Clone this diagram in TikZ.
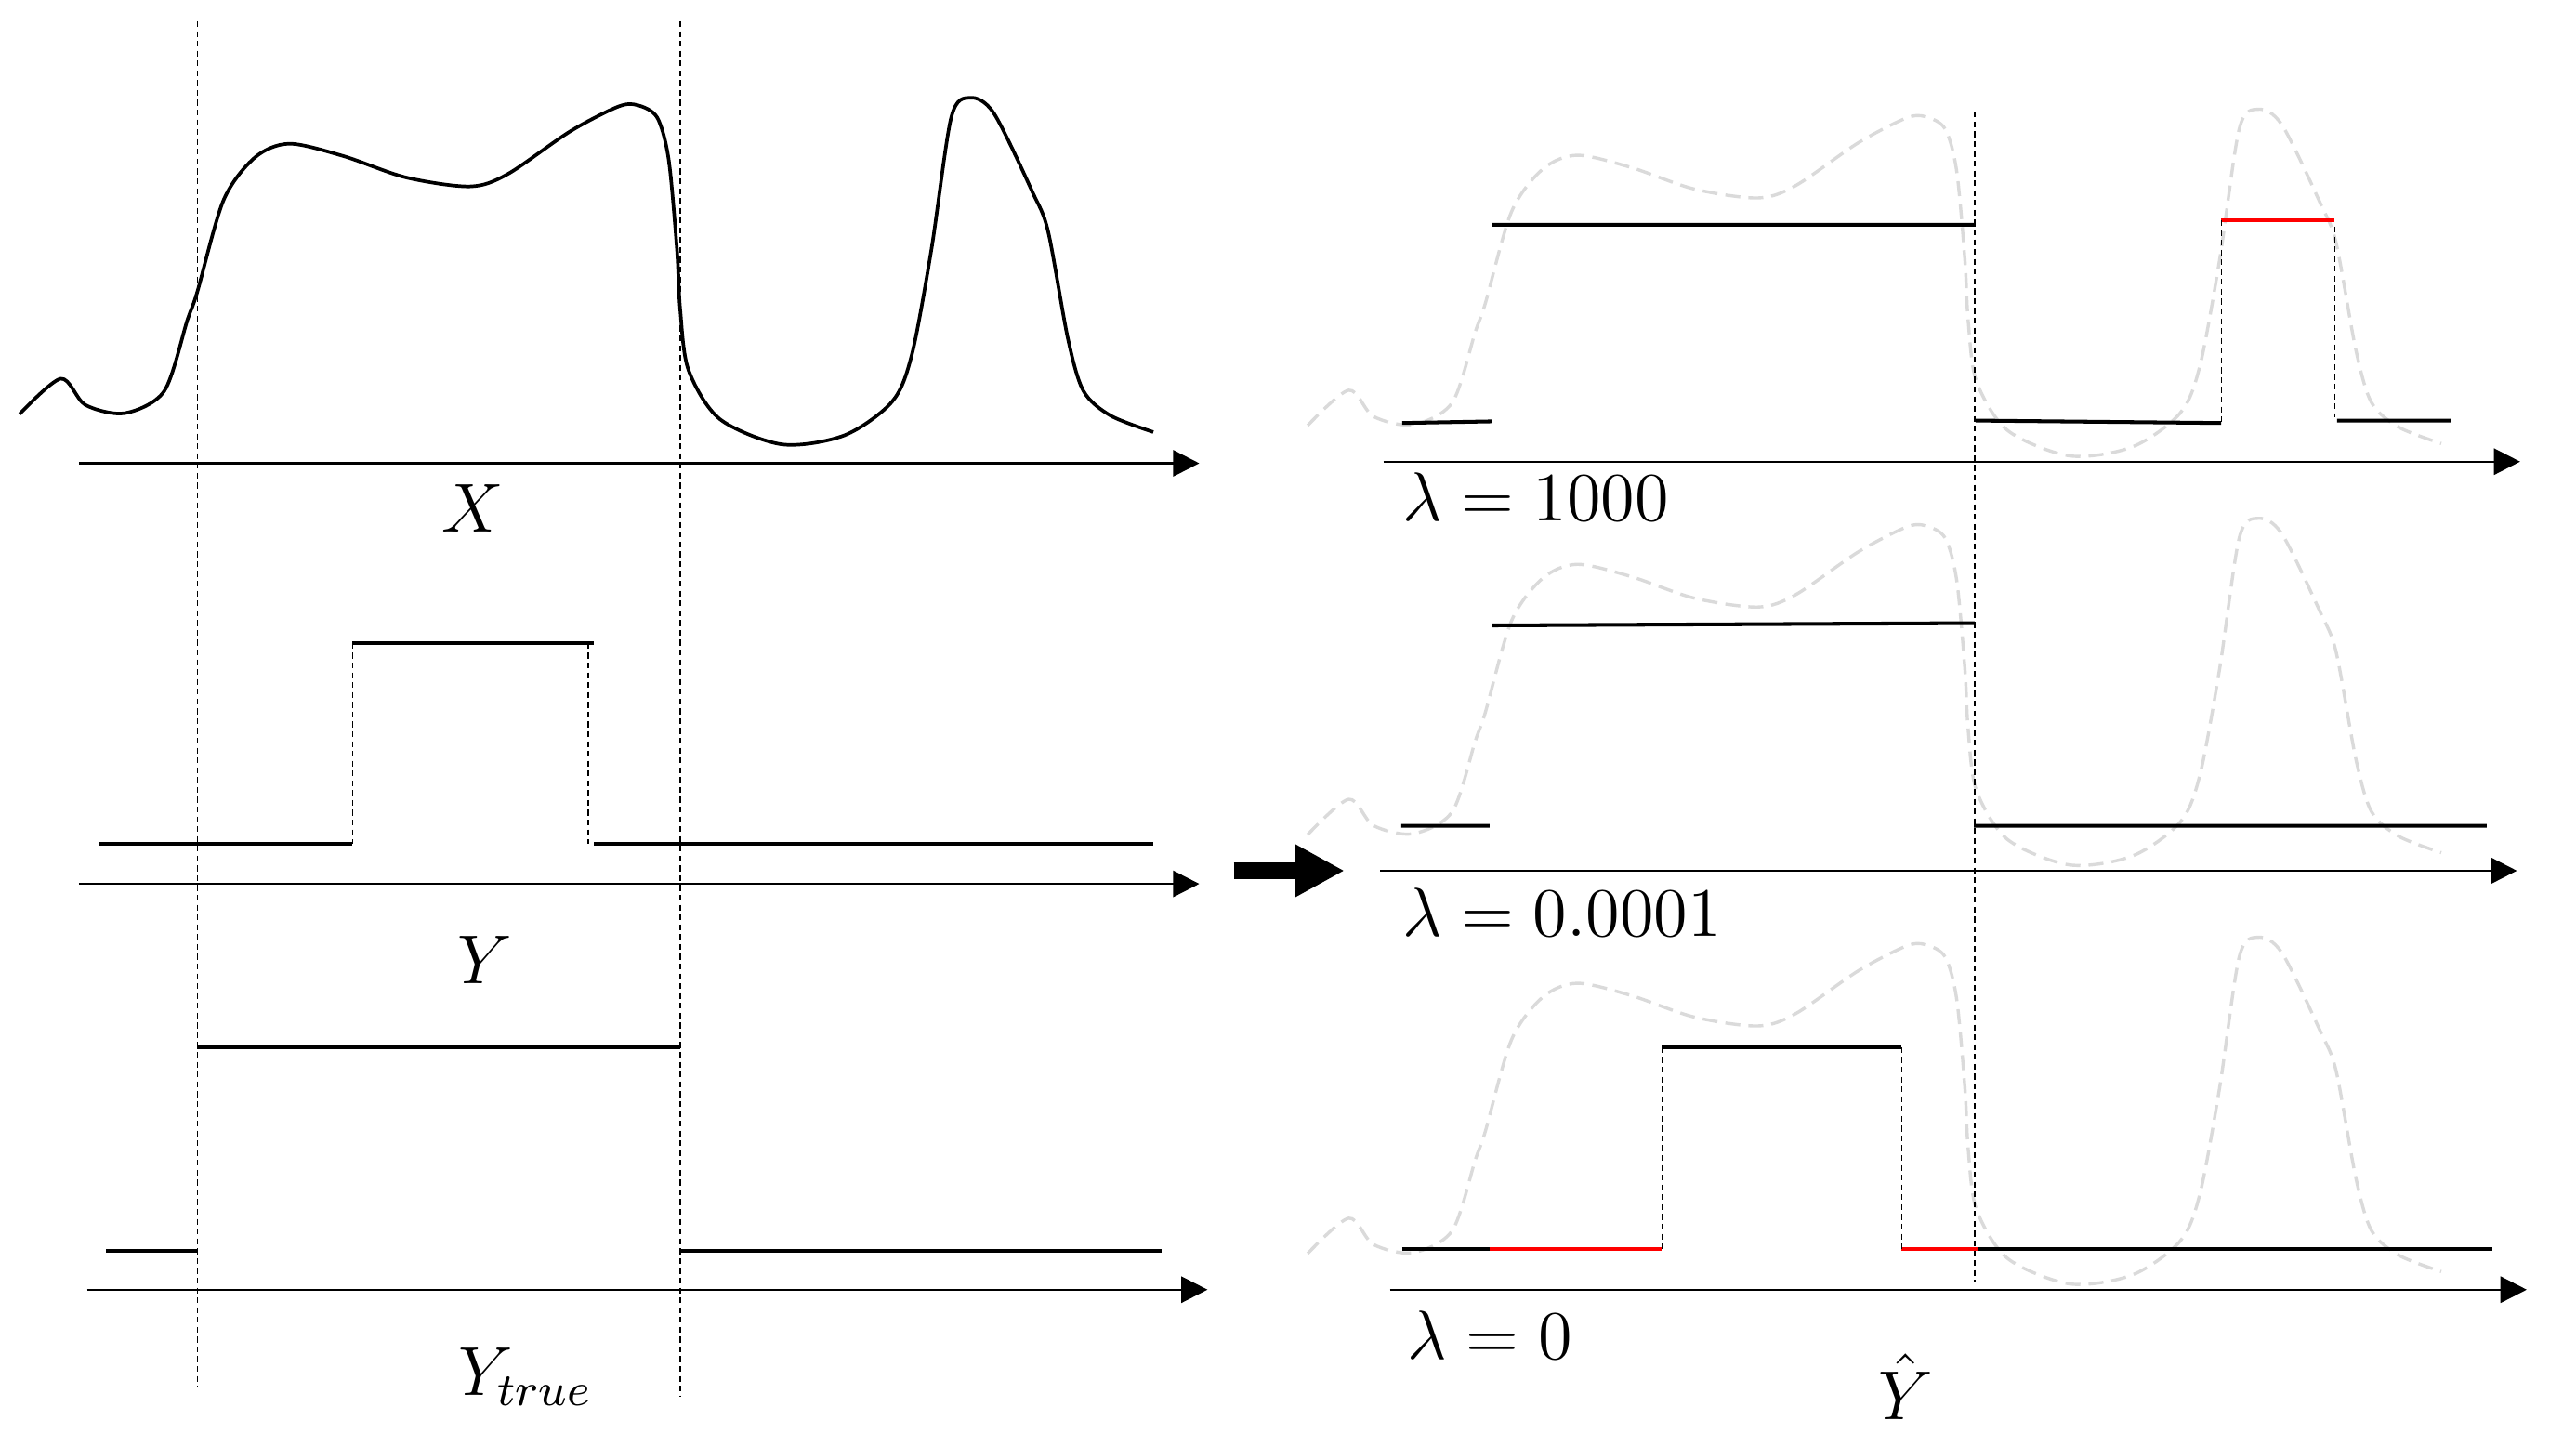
\documentclass[tikz,border=0pt]{standalone}
\usetikzlibrary{arrows.meta}
\definecolor{ghostgray}{HTML}{DADADA}
\tikzset{
	xsignal/.pic={
		\draw plot[smooth] coordinates {(12,252) (37,230.5) (52,246.5) (76,251.5) (100,238) (114,195) (120,178) (136,122) (155,96) (176,87.5) (209,95) (247,108) (286,113.5) (309,106) (347,80) (376,65) (388,64) (400,71.5) (407,97) (412,151) (414,188) (419,225) (438,255) (476,270.5) (514,265) (543,244.5) (555,216) (567,151.5) (579,71.5) (590.5,59.5) (605,69) (628.5,117) (638,141) (650,206) (659.5,238) (676,253) (702,263)};
	}
}
\begin{document}
\begin{tikzpicture}[x=0.1mm,y=-0.1mm,>={Triangle[length=1.6mm,width=1.6mm]},
		axis/.style={->,line width=0.4pt},
		sig/.style={line width=0.65pt},
		guide/.style={line width=0.2pt,dash pattern=on 1pt off 0.7pt},
		ghost/.style={color=ghostgray,line width=0.55pt,dash pattern=on 2.6pt off 1.4pt},
		lab/.style={font=\fontsize{12}{14}\selectfont,inner sep=0pt}]
		\useasboundingbox (0,0) rectangle (1568,880);
		% faded input behind each estimate
		\foreach \dy in {7,256,511}
			\pic[ghost] at (784,\dy) {xsignal};
		% input signal X
		\pic[line width=0.6pt] at (0,0) {xsignal};
		% guides
		\draw[guide] (120,13)--(120,844);
		\draw[guide] (414,13)--(414,850);
		\draw[guide] (908,68)--(908,780);
		\draw[guide] (1202,68)--(1202,780);
		% axes
		\draw[axis] (48,282)--(730,282);
		\draw[axis] (48,538)--(730,538);
		\draw[axis] (53,785)--(735,785);
		\draw[axis] (842,281)--(1534,281);
		\draw[axis] (840,530)--(1532,530);
		\draw[axis] (846,785)--(1538,785);
		% Y
		\draw[sig] (60,513.5)--(214.6,513.5) (214.6,391.4)--(361.5,391.4) (361.5,513.5)--(702,513.5);
		\draw[guide] (214.6,391.4)--(214.6,513.5) (358,391.4)--(358,513.5);
		% Y true
		\draw[sig] (64.6,761.4)--(120,761.4) (120,637.3)--(414,637.3) (414,761.4)--(707,761.4);
		% lambda = 1000
		\draw[sig] (853.5,257.5)--(908,256.5) (908,136.8)--(1202.5,136.8) (1202.5,256)--(1352,257.5) (1422.5,256)--(1491.5,256);
		\draw[sig,red] (1352,134)--(1421,134);
		\draw[guide] (1352,134)--(1352,257) (1421,138)--(1421,254);
		% lambda = 0.0001
		\draw[sig] (853,502.7)--(906.7,502.7) (908,380.7)--(1202,379.3) (1201.5,502.7)--(1513.6,502.7);
		% lambda = 0
		\draw[sig] (853.5,760)--(906.6,760) (1011.5,637.4)--(1157.5,637.4) (1203.7,760)--(1517,760);
		\draw[sig,red] (906.6,760)--(1011.5,760) (1157.5,760)--(1203.7,760);
		\draw[guide] (1011.5,637.4)--(1011.5,760) (1157.5,637.4)--(1157.5,760);
		% big arrow
		\coordinate (from) at (751,530);
		\coordinate (to) at (818.4,530);
		\draw[line width=1mm,-{Triangle[length=3mm,width=3mm]}] (from)--(to);
		% labels
		\node[lab,anchor=base] (lX) at (288,323.6) {$X$};
		\node[lab,anchor=base] (lY) at (295,599) {$Y$};
		\node[lab,anchor=base] (lYt) at (320,849.5) {$Y_{true}$};
		\node[lab,anchor=base west] (lL1) at (853,317) {$\lambda = 1000$};
		\node[lab,anchor=base west] (lL2) at (853,570) {$\lambda = 0.0001$};
		\node[lab,anchor=base west] (lL3) at (856,827) {$\lambda = 0$};
		\node[lab,anchor=base] (lYh) at (1160,864) {$\hat{Y}$};
\end{tikzpicture}
\end{document}
